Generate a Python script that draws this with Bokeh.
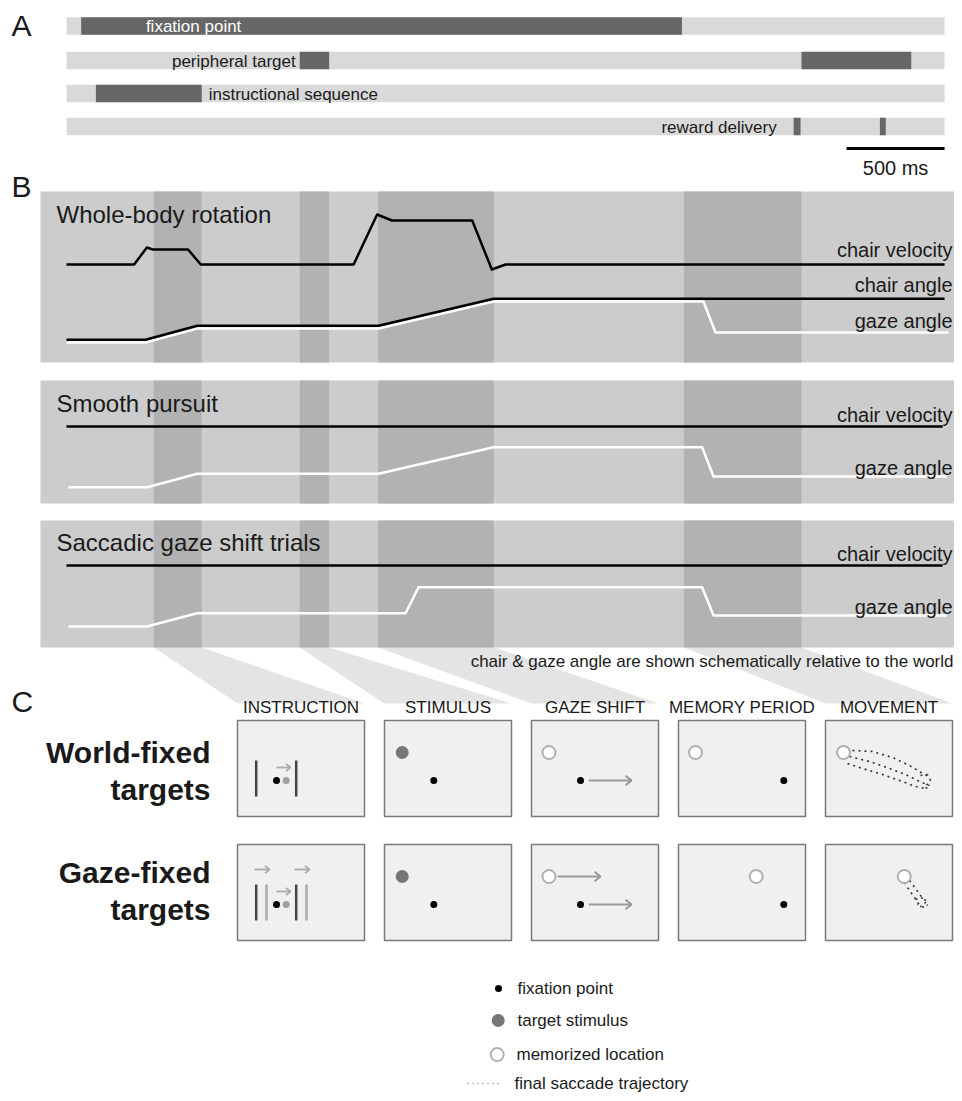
from bokeh.plotting import figure
from bokeh.models import Range1d, ColumnDataSource
from bokeh.core.properties import value
from bokeh.embed import file_html
from bokeh.resources import INLINE

FONT = "Liberation Sans"

# ---------------- DATA ----------------
# Panel A: event timing within one trial (ms)
TRIAL_MS = 4480
SCALE_MS = 500
fix_on, fix_off = [75], [3140]
target_on, target_off = [1190, 3750], [1340, 4310]
instr_on, instr_off = [150], [690]
reward_on, reward_off = [3710, 4150], [3745, 4180]

# Panel B: shaded epochs (ms)
epoch_on = [445, 1190, 1590, 3150]
epoch_off = [690, 1340, 2180, 3750]

# Whole-body rotation traces (time ms, schematic amplitude)
wb_vel_t = [0, 345, 410, 440, 620, 685, 1465, 1585, 1660, 2070, 2170, 2240, 4480]
wb_vel_v = [0, 0, 17, 15, 15, 0, 0, 50, 44, 44, -5, 0, 0]
wb_chair_t = [0, 403, 667, 1592, 2179, 4480]
wb_chair_a = [0, 0, 14, 14, 41, 41]
wb_gaze_t = [0, 403, 667, 1592, 2179, 3250, 3311, 4500]
wb_gaze_a = [0, 0, 14, 14, 41, 41, 10, 10]
# Smooth pursuit
sp_vel_t = [0, 4470]
sp_vel_v = [0, 0]
sp_gaze_t = [10, 412, 667, 1592, 2179, 3243, 3301, 4490]
sp_gaze_a = [0, 0, 13.4, 13.4, 40, 40, 10.7, 10.7]
# Saccadic gaze shift
sc_vel_t = [0, 4470]
sc_vel_v = [0, 0]
sc_gaze_t = [10, 410, 667, 1730, 1796, 3243, 3301, 4490]
sc_gaze_a = [0, 0, 13.3, 13.3, 39.3, 39.3, 11, 11]

# Panel C: column titles and row titles
columns = ["INSTRUCTION", "STIMULUS", "GAZE SHIFT", "MEMORY PERIOD", "MOVEMENT"]
rows = [["World-fixed", "targets"], ["Gaze-fixed", "targets"]]
legend_items = ["fixation point", "target stimulus", "memorized location", "final saccade trajectory"]

# final saccade trajectories (box-relative px)
traj_world = [
    ([27, 47, 67, 84, 97, 105], [30, 31, 37, 45, 53, 57]),
    ([24, 44, 64, 80, 94, 104], [36, 41, 48, 54, 61, 65]),
    ([22, 37, 57, 77, 90, 100], [43, 48, 54, 61, 66, 68]),
    ([95, 102, 105, 99, 104], [55, 54, 60, 67, 68]),
]
traj_gaze = [
    ([79, 84, 89, 92, 96], [38, 46, 53, 58, 62]),
    ([84, 90, 95, 100, 102], [36, 44, 51, 56, 61]),
    ([90, 96, 100, 95, 99, 92], [55, 53, 58, 62, 63, 60]),
]

# ---------------- LAYOUT ----------------
X0 = 66.0            # px of trial start
PX_PER_MS = 0.196


def t2x(ts):
    return [X0 + t * PX_PER_MS for t in ts]


p = figure(width=954, height=1093, x_range=Range1d(0, 954), y_range=Range1d(1093, 0),
           output_backend="svg", toolbar_location=None, min_border=0,
           x_axis_type=None, y_axis_type=None)
p.grid.visible = False
p.outline_line_color = None
p.background_fill_color = "white"
p.border_fill_color = "white"


def txt(xs, ys, texts, size, align="left", color="#1a1a1a", style="normal"):
    src = ColumnDataSource(dict(x=xs, y=ys, t=texts))
    p.text("x", "y", text="t", source=src, text_font=value(FONT),
           text_font_size=value(f"{size}px"), text_align=align,
           text_baseline="middle", text_color=color, text_font_style=style)


def arrows(x0s, x1s, ys, head=5.0, color="#999999", width=2.0):
    xs, yy = [], []
    for a, b, y in zip(x0s, x1s, ys):
        xs.append([a, b]); yy.append([y, y])
        xs.append([b - head, b, b - head]); yy.append([y - head * 0.8, y, y + head * 0.8])
    p.multi_line(xs, yy, line_color=color, line_width=width)


# ---------------- PANEL A ----------------
txt([11], [24.5], ["A"], 30)
row_y = [25.5, 60, 93, 126]
H = 17.5
p.quad(left=[X0] * 4, right=t2x([TRIAL_MS]) * 4,
       top=[y - H / 2 for y in row_y], bottom=[y + H / 2 for y in row_y],
       fill_color="#d9d9d9", line_color=None)
DARK = "#666666"
for on, off, y in [(fix_on, fix_off, row_y[0]), (target_on, target_off, row_y[1]),
                   (instr_on, instr_off, row_y[2]), (reward_on, reward_off, row_y[3])]:
    p.quad(left=t2x(on), right=t2x(off), top=[y - H / 2] * len(on), bottom=[y + H / 2] * len(on),
           fill_color=DARK, line_color=None)
txt(t2x([fix_on[0] + 330]), [row_y[0] + 0.5], ["fixation point"], 17, color="white")
txt([t2x([target_on[0]])[0] - 4], [row_y[1] + 0.5], ["peripheral target"], 17, align="right")
txt([t2x([instr_off[0]])[0] + 7], [row_y[2] + 0.5], ["instructional sequence"], 17)
txt([t2x([reward_on[0]])[0] - 17], [row_y[3] + 0.5], ["reward delivery"], 17, align="right")
sb = t2x([TRIAL_MS - SCALE_MS, TRIAL_MS])
p.line(sb, [148, 148], line_color="black", line_width=3)
txt([(sb[0] + sb[1]) / 2], [167], ["500 ms"], 20, align="center")

# ---------------- PANEL C trapezoids (behind) ----------------
BOX_L = [237, 384, 531, 678, 825]
BW, BH = 127, 96
ROW_T = [720, 844]
PANEL_BOTTOM = 647
trap_box = [0, 1, 2, 4]
tx, ty = [], []
for i, b in enumerate(trap_box):
    a0, a1 = t2x([epoch_on[i], epoch_off[i]])
    tx.append([a0, a1, BOX_L[b] + BW, BOX_L[b]])
    ty.append([PANEL_BOTTOM, PANEL_BOTTOM, 703, 703])
p.patches(tx, ty, fill_color="#e4e4e4", line_color=None)

# ---------------- PANEL B ----------------
txt([11], [186], ["B"], 30)
panels = [(191, 362), (380, 503), (520, 647)]
p.quad(left=[40] * 3, right=[962] * 3, top=[a for a, b in panels], bottom=[b for a, b in panels],
       fill_color="#cccccc", line_color=None)
for top, bot in panels:
    p.quad(left=t2x(epoch_on), right=t2x(epoch_off), top=[top] * 4, bottom=[bot] * 4,
           fill_color="#b2b2b2", line_color=None)

titles = ["Whole-body rotation", "Smooth pursuit", "Saccadic gaze shift trials"]
txt([56, 56, 56], [214, 403, 542], titles, 24)

# whole-body rotation
p.line(t2x(wb_gaze_t), [342 - a for a in wb_gaze_a], line_color="white", line_width=2.5)
p.line(t2x(wb_chair_t), [339.3 - a for a in wb_chair_a], line_color="black", line_width=2.5)
p.line(t2x(wb_vel_t), [264 - v for v in wb_vel_v], line_color="black", line_width=2.5, line_join="round")
# smooth pursuit
p.line(t2x(sp_vel_t), [426 - v for v in sp_vel_v], line_color="black", line_width=2.5)
p.line(t2x(sp_gaze_t), [486.7 - a for a in sp_gaze_a], line_color="white", line_width=2.5, line_join="round")
# saccadic
p.line(t2x(sc_vel_t), [565 - v for v in sc_vel_v], line_color="black", line_width=2.5)
p.line(t2x(sc_gaze_t), [626 - a for a in sc_gaze_a], line_color="white", line_width=2.5, line_join="round")

txt([952] * 7, [249, 284.5, 320, 414, 467, 553, 606],
    ["chair velocity", "chair angle", "gaze angle", "chair velocity", "gaze angle",
     "chair velocity", "gaze angle"], 20, align="right")
txt([953], [661], ["chair & gaze angle are shown schematically relative to the world"], 17, align="right")

# ---------------- PANEL C ----------------
txt([11], [701], ["C"], 30)
txt([l + BW / 2 for l in BOX_L], [707] * 5, columns, 17, align="center")
txt([210, 210, 210, 210], [752, 789, 872, 909],
    [rows[0][0], rows[0][1], rows[1][0], rows[1][1]], 30, align="right", style="bold")

bl, br, bt, bb = [], [], [], []
for T in ROW_T:
    for L in BOX_L:
        bl.append(L); br.append(L + BW); bt.append(T); bb.append(T + BH)
p.quad(left=bl, right=br, top=bt, bottom=bb, fill_color="#f0f0f0", line_color="#7a7a7a", line_width=1.5)

BLACK_DOT = dict(size=7, fill_color="black", line_color=None)
STIM = dict(size=13, fill_color="#777777", line_color=None)
MEM = dict(size=13, fill_color="white", line_color="#b0b0b0", line_width=2)

for r, T in enumerate(ROW_T):
    L = BOX_L[0]
    # instruction: bars, fixation + target dots, arrow
    p.multi_line([[L + 18.7, L + 18.7], [L + 58.7, L + 58.7]], [[T + 40, T + 76], [T + 40, T + 76]],
                 line_color="#444444", line_width=2.5)
    if r == 1:
        p.multi_line([[L + 29, L + 29], [L + 69, L + 69]], [[T + 40, T + 76], [T + 40, T + 76]],
                     line_color="#aaaaaa", line_width=2.5)
        arrows([L + 17, L + 57], [L + 32, L + 72], [T + 25, T + 25], head=4.5, color="#aaaaaa", width=1.8)
    p.scatter([L + 39], [T + 60], **BLACK_DOT)
    p.scatter([L + 48.7], [T + 60], size=7, fill_color="#a0a0a0", line_color=None)
    arrows([L + 39], [L + 53], [T + 47], head=4.5, color="#aaaaaa", width=1.8)

    # stimulus
    L = BOX_L[1]
    p.scatter([L + 17.7], [T + 32], **STIM)
    p.scatter([L + 49.3], [T + 60], **BLACK_DOT)

    # gaze shift
    L = BOX_L[2]
    p.scatter([L + 17.5], [T + 32], **MEM)
    p.scatter([L + 49], [T + 60], **BLACK_DOT)
    arrows([L + 57.3], [L + 100], [T + 60], head=6, color="#999999", width=2)
    if r == 1:
        arrows([L + 26], [L + 69], [T + 32], head=6, color="#999999", width=2)

    # memory period
    L = BOX_L[3]
    p.scatter([L + (17 if r == 0 else 77.7)], [T + 32], **MEM)
    p.scatter([L + 105.3], [T + 60], **BLACK_DOT)

    # movement
    L = BOX_L[4]
    trajs = traj_world if r == 0 else traj_gaze
    p.multi_line([[L + x for x in xs] for xs, ys in trajs], [[T + y for y in ys] for xs, ys in trajs],
                 line_color="#333333", line_width=1.6, line_dash="2 4")
    p.scatter([L + (18 if r == 0 else 78.7)], [T + 32], **MEM)

# legend
LY = [988, 1020, 1054, 1083]
p.scatter([498], [LY[0]], **BLACK_DOT)
p.scatter([497.7], [LY[1]], **STIM)
p.scatter([496.7], [LY[2]], **MEM)
p.line([467, 500], [LY[3], LY[3]], line_color="#888888", line_width=1.4, line_dash="1 4")
txt([517, 517, 516, 514], LY, legend_items, 17)

open("out.html", "w").write(file_html(p, INLINE))
